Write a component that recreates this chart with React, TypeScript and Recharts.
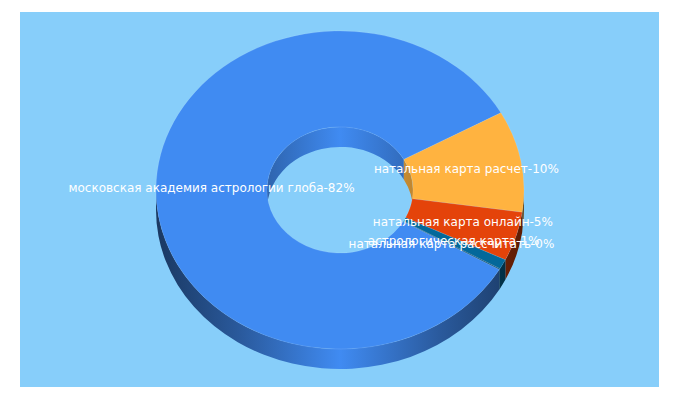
import { Pie, PieChart } from "recharts";

const names = [
  "московская академия астрологии глоба",
  "натальная карта расчет",
  "натальная карта онлайн",
  "астрологическая карта",
  "натальная карта рассчитать",
];
// slice sizes
const shares = [83.6, 10.3, 5.0, 1.0, 0.1];
// percentages as printed in the labels
const printed = [82, 10, 5, 1, 0];
const colors = ["#408bf2", "#ffb340", "#e4430a", "#03689a", "#0f4a6e"];

const data = names.map((name, i) => ({ name, value: shares[i], color: colors[i], printed: printed[i] }));

const SQUASH = 159 / 184;
const DEPTH = 20;
const RAD = Math.PI / 180;

function pt(cx: number, cy: number, r: number, deg: number) {
  return [cx + r * Math.cos(deg * RAD), cy - r * SQUASH * Math.sin(deg * RAD)];
}

// arc going clockwise on screen, from the higher angle to the lower one
function arc(cx: number, cy: number, r: number, from: number, to: number) {
  const [x, y] = pt(cx, cy, r, to);
  return `A${r} ${r * SQUASH} 0 ${Math.abs(from - to) > 180 ? 1 : 0} ${from > to ? 1 : 0} ${x} ${y}`;
}

function shade(hex: string, f: number) {
  const n = parseInt(hex.slice(1), 16);
  const c = [n >> 16, (n >> 8) & 255, n & 255].map((v) => Math.round(v * f));
  return `rgb(${c.join(",")})`;
}

function wallBand(cx: number, cy: number, r: number, hi: number, lo: number) {
  const [x0, y0] = pt(cx, cy, r, hi);
  const [x1, y1] = pt(cx, cy + DEPTH, r, lo);
  return `M${x0} ${y0}${arc(cx, cy, r, hi, lo)}L${x1} ${y1}${arc(cx, cy + DEPTH, r, lo, hi)}Z`;
}

// parts of [lo, hi] in the lower (outer wall) or upper (hole wall) half of the ellipse
function halves(lo: number, hi: number, lower: boolean) {
  const out: [number, number][] = [];
  for (let k = -3; k <= 1; k++) {
    const a = 360 * k + (lower ? -180 : 0);
    const b = a + 180;
    const l = Math.max(lo, a);
    const h = Math.min(hi, b);
    if (h > l) out.push([l, h]);
  }
  return out;
}

function WallShape(props: any) {
  const { cx, cy, innerRadius, outerRadius, startAngle, endAngle, index, payload } = props;
  const color = props.color ?? payload?.color ?? colors[index];
  const lo = Math.min(startAngle, endAngle);
  const hi = Math.max(startAngle, endAngle);
  const outerId = `outer-${index}`;
  const innerId = `inner-${index}`;
  return (
    <g>
      <defs>
        <linearGradient id={outerId} gradientUnits="userSpaceOnUse" x1={cx - outerRadius} x2={cx + outerRadius} y1={0} y2={0}>
          <stop offset="0" stopColor={shade(color, 0.4)} />
          <stop offset="0.23" stopColor={shade(color, 0.65)} />
          <stop offset="0.5" stopColor={shade(color, 1)} />
          <stop offset="0.77" stopColor={shade(color, 0.65)} />
          <stop offset="1" stopColor={shade(color, 0.4)} />
        </linearGradient>
        <linearGradient id={innerId} gradientUnits="userSpaceOnUse" x1={cx - innerRadius} x2={cx + innerRadius} y1={0} y2={0}>
          <stop offset="0" stopColor={shade(color, 0.72)} />
          <stop offset="0.5" stopColor={shade(color, 1)} />
          <stop offset="1" stopColor={shade(color, 0.75)} />
        </linearGradient>
      </defs>
      {halves(lo, hi, false).map(([l, h]) => (
        <path key={`i${l}`} d={wallBand(cx, cy, innerRadius, h, l)} fill={`url(#${innerId})`} />
      ))}
      {halves(lo, hi, true).map(([l, h]) => (
        <path key={`o${l}`} d={wallBand(cx, cy, outerRadius, h, l)} fill={`url(#${outerId})`} />
      ))}
    </g>
  );
}

function TopShape(props: any) {
  const { cx, cy, innerRadius, outerRadius, startAngle, endAngle, index, payload } = props;
  const color = props.color ?? payload?.color ?? colors[index];
  const [x0, y0] = pt(cx, cy, outerRadius, startAngle);
  const [x1, y1] = pt(cx, cy, innerRadius, endAngle);
  const d =
    `M${x0} ${y0}${arc(cx, cy, outerRadius, startAngle, endAngle)}` +
    `L${x1} ${y1}${arc(cx, cy, innerRadius, endAngle, startAngle)}Z`;
  return <path d={d} fill={color} stroke="#ffffff" strokeOpacity={0.18} strokeWidth={0.6} />;
}

function SliceLabel(props: any) {
  const { cx, cy, innerRadius, outerRadius, midAngle, index } = props;
  const [x, y] = pt(cx, cy, (innerRadius + outerRadius) / 2, midAngle);
  return (
    <text
      x={x}
      y={y - 1}
      textAnchor="middle"
      dominantBaseline="central"
      fill="#ffffff"
      fontFamily="DejaVu Sans"
      fontSize={12}
    >
      {`${names[index]}-${printed[index]}%`}
    </text>
  );
}

export default function App() {
  return (
    <div style={{ position: "absolute", left: 0, top: 0, width: 680, height: 400, background: "#ffffff" }}>
      <div style={{ position: "absolute", left: 20, top: 12, width: 639, height: 375, background: "#87cefa" }} />
      <div style={{ position: "absolute", left: 0, top: 0 }}>
        <PieChart width={680} height={400} margin={{ top: 0, right: 0, bottom: 0, left: 0 }}>
          <Pie
            data={data}
            dataKey="value"
            cx={340}
            cy={190}
            innerRadius={73}
            outerRadius={184}
            startAngle={-30}
            endAngle={-390}
            stroke="none"
            shape={WallShape}
            isAnimationActive={false}
          />
          <Pie
            data={data}
            dataKey="value"
            cx={340}
            cy={190}
            innerRadius={73}
            outerRadius={184}
            startAngle={-30}
            endAngle={-390}
            stroke="none"
            shape={TopShape}
            label={SliceLabel}
            labelLine={false}
            isAnimationActive={false}
          />
        </PieChart>
      </div>
    </div>
  );
}
